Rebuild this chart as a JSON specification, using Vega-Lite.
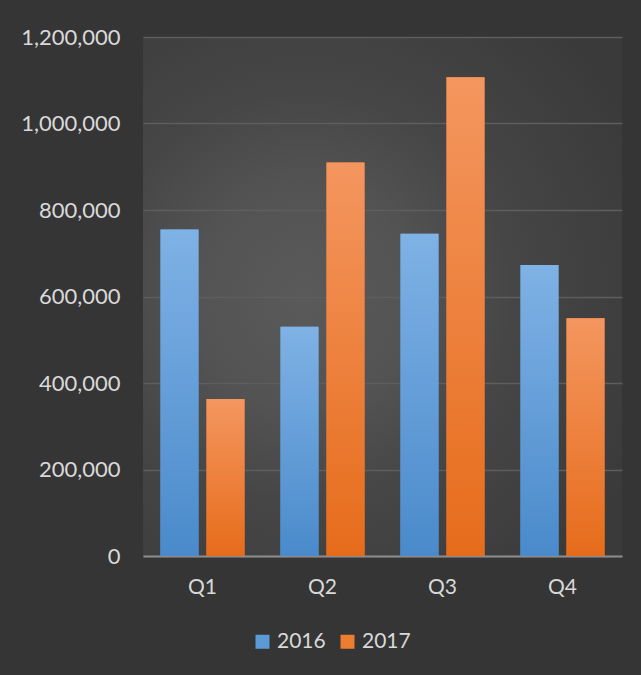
{
  "$schema": "https://vega.github.io/schema/vega-lite/v6.json",
  "autosize": {"type": "none"},
  "width": 479,
  "height": 519,
  "padding": {"left": 143, "top": 37, "right": 19, "bottom": 119},
  "background": "#353535",
  "config": {
    "font": "Lato",
    "view": {
      "stroke": null,
      "fill": {
        "gradient": "radial",
        "x1": 0.35, "y1": 0.5, "r1": 0,
        "x2": 0.35, "y2": 0.5, "r2": 0.72,
        "stops": [
          {"offset": 0, "color": "#5a5a5a"},
          {"offset": 0.3, "color": "#535353"},
          {"offset": 0.55, "color": "#464646"},
          {"offset": 1, "color": "#3a3a3a"}
        ]
      }
    }
  },
  "data": {
    "values": [
      {"quarter": "Q1", "year": "2016", "value": 755000},
      {"quarter": "Q1", "year": "2017", "value": 363000},
      {"quarter": "Q2", "year": "2016", "value": 530000},
      {"quarter": "Q2", "year": "2017", "value": 910000},
      {"quarter": "Q3", "year": "2016", "value": 745000},
      {"quarter": "Q3", "year": "2017", "value": 1107000},
      {"quarter": "Q4", "year": "2016", "value": 673000},
      {"quarter": "Q4", "year": "2017", "value": 550000}
    ]
  },
  "encoding": {
    "x": {
      "field": "quarter",
      "type": "nominal",
      "scale": {"paddingInner": 0.3, "paddingOuter": 0.1458},
      "axis": {
        "title": null,
        "labelAngle": 0,
        "labelFontSize": 21,
        "labelColor": "#d9d9d9",
        "labelPadding": 20,
        "ticks": false,
        "domainColor": "#8c8c8c",
        "domainWidth": 2,
        "grid": false
      }
    },
    "xOffset": {
      "field": "year",
      "type": "nominal",
      "scale": {"paddingInner": 0.174, "paddingOuter": 0}
    },
    "y": {
      "field": "value",
      "type": "quantitative",
      "scale": {"domain": [0, 1200000], "nice": false},
      "axis": {
        "title": null,
        "values": [0, 200000, 400000, 600000, 800000, 1000000, 1200000],
        "format": ",d",
        "labelFontSize": 22,
        "labelColor": "#d9d9d9",
        "labelPadding": 23,
        "ticks": false,
        "domain": false,
        "grid": true,
        "gridColor": "#5e5e5e",
        "gridWidth": 1.5
      }
    },
    "y2": {"datum": 0}
  },
  "layer": [
    {
      "mark": {"type": "bar"},
      "encoding": {
        "color": {
          "field": "year",
          "type": "nominal",
          "scale": {"domain": ["2016", "2017"], "range": ["#5b9bd5", "#ed7d31"]},
          "legend": {
            "title": null,
            "orient": "none",
            "direction": "horizontal",
            "legendX": 109,
            "legendY": 594,
            "padding": 0,
            "symbolType": "square",
            "symbolSize": 196,
            "symbolStrokeWidth": 0,
            "labelFontSize": 21,
            "labelColor": "#d9d9d9",
            "labelOffset": 4,
            "columnPadding": 11
          }
        }
      }
    },
    {
      "mark": {"type": "bar"},
      "encoding": {
        "fill": {
          "condition": {
            "test": "datum.year === '2016'",
            "value": {"gradient": "linear", "x1": 0, "y1": 0, "x2": 0, "y2": 1, "stops": [{"offset": 0, "color": "#7fb2e5"}, {"offset": 1, "color": "#4a8acb"}]}
          },
          "value": {"gradient": "linear", "x1": 0, "y1": 0, "x2": 0, "y2": 1, "stops": [{"offset": 0, "color": "#f4965f"}, {"offset": 1, "color": "#e66c1b"}]}
        }
      }
    }
  ]
}
